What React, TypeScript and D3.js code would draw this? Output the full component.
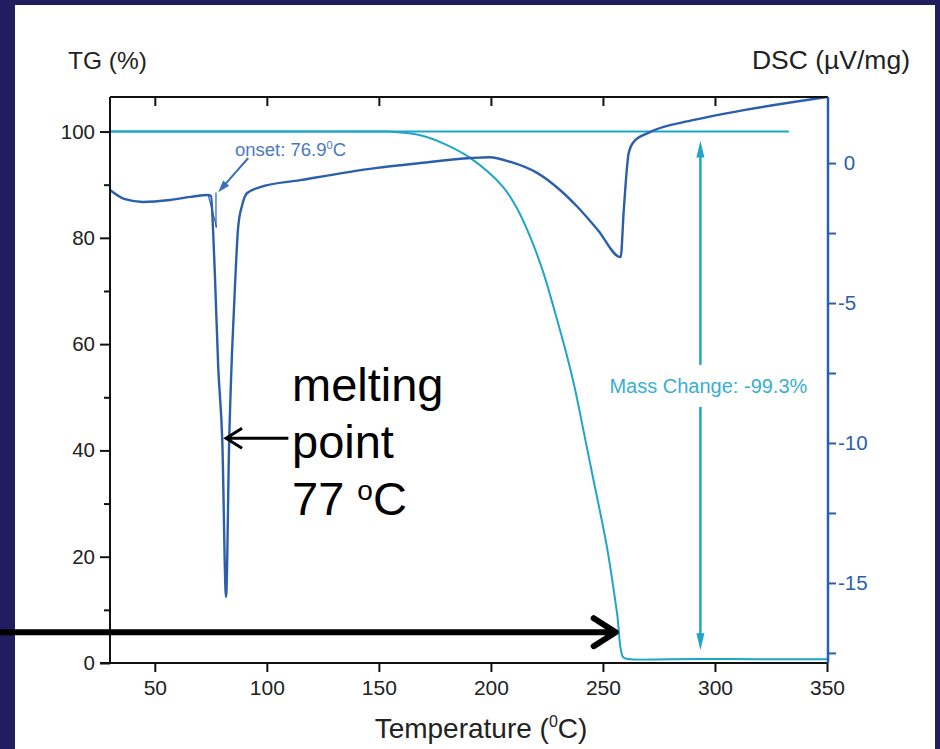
import React, { useEffect, useRef } from "react";
import * as d3 from "d3";

// TG curve (mass %, left axis)
const tgTemp = [30, 150, 153.8, 168.5, 179.7, 190.9, 205.4, 212.1, 217.4, 223.3, 228.6, 233.5, 237.5, 241.1, 245.6, 251.8, 256.3, 259.0, 261.2, 280, 300, 320, 350];
const tgMass = [100, 100, 100, 99.3, 97.6, 95.0, 89.6, 85.2, 80.3, 73.6, 66.0, 58.5, 51.6, 44.2, 34.8, 21.8, 9.4, 1.1, 0.75, 0.7, 0.75, 0.7, 0.7];

// DSC curve (uV/mg, right axis)
const dscTemp = [30, 36.7, 44.7, 56.8, 65.8, 73.8, 75.1, 76.0, 76.9, 78.3, 80.1, 81.8, 83.2, 84.5, 85.9, 87.2, 89.0, 91.2, 97.0, 114.9, 148.4, 168.5, 190.9, 199.4, 208.8, 220.8, 229.8, 238.7, 247.7, 257.9, 259.3, 261.5, 263.7, 270.0, 290.6, 312.9, 350];
const dscValue = [-0.96, -1.29, -1.39, -1.32, -1.21, -1.14, -1.18, -2.39, -4.18, -7.29, -9.89, -15.5, -9.89, -6.68, -4.18, -2.29, -1.5, -1.07, -0.86, -0.61, -0.18, 0, 0.18, 0.21, 0.04, -0.36, -0.89, -1.57, -2.39, -3.36, -1.68, 0.36, 0.75, 1.07, 1.54, 1.89, 2.36];

// ticks
const xTicks = [50, 100, 150, 200, 250, 300, 350];
const tgTicks = [0, 20, 40, 60, 80, 100];
const tgMinor = [10, 30, 50, 70, 90];
const dscTicks = [0, -5, -10, -15];
const dscMinor = [-2.5, -7.5, -12.5, -17.5];

// annotations (temperature, value)
const baseline100 = [30, 333];
const massArrow = { t: 293.5, top: 98.3, bottom: 2.4, gapTop: 56.1, gapBottom: 48.2, label: "Mass Change: -99.3%" };
const onsetArrow = { from: [91.7, 0.18], to: [78.3, -1.04] };
const meltArrow = { from: 109.6, to: 81.8, tg: 42.3 };
const bigArrow = { from: -19.2, to: 255.7, tg: 5.8 };

const W = 940;
const H = 749;
const FONT = "'Liberation Sans', Arial, Helvetica, sans-serif";
const NAVY = "#211e5f";
const CYAN = "#1fa5c9";
const BLUE = "#2b5fab";

const App = () => {
  const svgRef = useRef<SVGSVGElement>(null);

  useEffect(() => {
    const svg = d3.select(svgRef.current);
    svg.selectAll("*").remove();

    const x = d3.scaleLinear().domain([30, 350]).range([110, 827]);
    const yTG = d3.scaleLinear().domain([0, 106.5]).range([663, 97]);
    const yDSC = d3.scaleLinear().domain([-17.86, 2.36]).range([663, 97]);
    const left = 110, right = 828, top = 97, bottom = 663;

    // background frame
    svg.append("rect").attr("width", W).attr("height", H).attr("fill", NAVY);
    svg.append("rect").attr("x", 15).attr("y", 5).attr("width", 920).attr("height", 744).attr("fill", "#fff");

    // 100% reference line
    svg.append("line")
      .attr("x1", x(baseline100[0])).attr("x2", x(baseline100[1]))
      .attr("y1", yTG(100)).attr("y2", yTG(100))
      .attr("stroke", CYAN).attr("stroke-width", 2);

    // TG curve
    const tgLine = d3.line<number>()
      .x((d, i) => x(tgTemp[i]))
      .y((d) => yTG(d))
      .curve(d3.curveCatmullRom.alpha(0.5));
    svg.append("path").attr("d", tgLine(tgMass)).attr("fill", "none")
      .attr("stroke", CYAN).attr("stroke-width", 2);

    // DSC curve
    const dscLine = d3.line<number>()
      .x((d, i) => x(dscTemp[i]))
      .y((d) => yDSC(d))
      .curve(d3.curveMonotoneX);
    svg.append("path").attr("d", dscLine(dscValue)).attr("fill", "none")
      .attr("stroke", BLUE).attr("stroke-width", 2.4).attr("stroke-linejoin", "round");

    // onset construction lines
    const onsetG = svg.append("g").attr("stroke", BLUE).attr("stroke-width", 1.2).attr("fill", "none");
    onsetG.append("line").attr("x1", x(73.8)).attr("y1", yDSC(-1.14)).attr("x2", x(77.6)).attr("y2", yDSC(-2.3));
    onsetG.append("line").attr("x1", x(77.3)).attr("y1", yDSC(-1.05)).attr("x2", x(77.3)).attr("y2", yDSC(-2.3));

    // onset arrow
    const ox1 = x(onsetArrow.from[0]), oy1 = yDSC(onsetArrow.from[1]);
    const ox2 = x(onsetArrow.to[0]), oy2 = yDSC(onsetArrow.to[1]);
    const ang = Math.atan2(oy2 - oy1, ox2 - ox1);
    svg.append("line").attr("x1", ox1).attr("y1", oy1)
      .attr("x2", ox2 - 8 * Math.cos(ang)).attr("y2", oy2 - 8 * Math.sin(ang))
      .attr("stroke", "#3e70b8").attr("stroke-width", 2);
    const head = (len: number, half: number) => {
      const bx = ox2 - len * Math.cos(ang), by = oy2 - len * Math.sin(ang);
      const px = -Math.sin(ang) * half, py = Math.cos(ang) * half;
      return `M${ox2},${oy2}L${bx + px},${by + py}L${bx - px},${by - py}Z`;
    };
    svg.append("path").attr("d", head(12, 4)).attr("fill", "#3e70b8");
    svg.append("text").attr("x", 235).attr("y", 156)
      .attr("font-family", FONT).attr("font-size", 18.5).attr("fill", "#4a79be")
      .call((t) => {
        t.append("tspan").text("onset: 76.9");
        t.append("tspan").attr("font-size", 11).attr("dy", -7).text("0");
        t.append("tspan").attr("dy", 7).text("C");
      });

    // mass change arrow
    const mx = x(massArrow.t);
    const mg = svg.append("g").attr("stroke", CYAN).attr("stroke-width", 2.5);
    mg.append("line").attr("x1", mx).attr("x2", mx).attr("y1", yTG(massArrow.top) + 14).attr("y2", yTG(massArrow.gapTop));
    mg.append("line").attr("x1", mx).attr("x2", mx).attr("y1", yTG(massArrow.gapBottom)).attr("y2", yTG(massArrow.bottom) - 14);
    const tipT = yTG(massArrow.top), tipB = yTG(massArrow.bottom);
    svg.append("path").attr("d", `M${mx},${tipT}L${mx - 4},${tipT + 17}L${mx + 4},${tipT + 17}Z`).attr("fill", CYAN);
    svg.append("path").attr("d", `M${mx},${tipB}L${mx - 4},${tipB - 17}L${mx + 4},${tipB - 17}Z`).attr("fill", CYAN);
    svg.append("text").attr("x", mx + 8).attr("y", (yTG(massArrow.gapTop) + yTG(massArrow.gapBottom)) / 2 + 7)
      .attr("text-anchor", "middle").attr("font-family", FONT).attr("font-size", 20)
      .attr("fill", "#3aaed0").text(massArrow.label);

    // axes frame
    const frame = svg.append("g").attr("stroke", "#111").attr("stroke-width", 2);
    frame.append("line").attr("x1", left).attr("x2", right).attr("y1", top).attr("y2", top);
    frame.append("line").attr("x1", left).attr("x2", left).attr("y1", top).attr("y2", bottom);
    frame.append("line").attr("x1", left - 10).attr("x2", right).attr("y1", bottom).attr("y2", bottom);

    // left axis
    const gl = svg.append("g").attr("transform", `translate(${left},0)`)
      .call(d3.axisLeft(yTG).tickValues(tgTicks).tickSize(10).tickPadding(5).tickFormat((d) => String(d)));
    gl.select(".domain").remove();
    gl.selectAll("line").attr("stroke", "#111").attr("stroke-width", 2);
    gl.selectAll("text").attr("font-family", FONT).attr("font-size", 20.5).attr("fill", "#222");
    svg.append("g").attr("transform", `translate(${left},0)`)
      .call(d3.axisLeft(yTG).tickValues(tgMinor).tickSize(6).tickFormat(() => ""))
      .call((g) => g.select(".domain").remove())
      .call((g) => g.selectAll("line").attr("stroke", "#111").attr("stroke-width", 2));

    // bottom axis
    const gb = svg.append("g").attr("transform", `translate(0,${bottom})`)
      .call(d3.axisBottom(x).tickValues(xTicks).tickSize(9).tickPadding(8));
    gb.select(".domain").remove();
    gb.selectAll("line").attr("stroke", "#111").attr("stroke-width", 2);
    gb.selectAll("text").attr("font-family", FONT).attr("font-size", 21).attr("fill", "#222");

    // top ticks
    svg.append("g").attr("transform", `translate(0,${top})`)
      .call(d3.axisBottom(x).tickValues(xTicks.slice(0, -1)).tickSize(9).tickFormat(() => ""))
      .call((g) => g.select(".domain").remove())
      .call((g) => g.selectAll("line").attr("stroke", "#111").attr("stroke-width", 2));

    // right axis
    const gr = svg.append("g").attr("transform", `translate(${right},0)`)
      .call(d3.axisRight(yDSC).tickValues(dscTicks).tickSize(8).tickPadding(2).tickFormat((d) => (d === 0 ? " 0" : String(d))));
    gr.select(".domain").remove();
    gr.selectAll("line").attr("stroke", BLUE).attr("stroke-width", 2);
    gr.selectAll("text").attr("font-family", FONT).attr("font-size", 20.5).attr("fill", BLUE)
      .style("white-space", "pre");
    svg.append("g").attr("transform", `translate(${right},0)`)
      .call(d3.axisRight(yDSC).tickValues(dscMinor).tickSize(8).tickFormat(() => ""))
      .call((g) => g.select(".domain").remove())
      .call((g) => g.selectAll("line").attr("stroke", BLUE).attr("stroke-width", 2));
    svg.append("line").attr("x1", right).attr("x2", right).attr("y1", top).attr("y2", bottom)
      .attr("stroke", BLUE).attr("stroke-width", 2.5);

    // axis titles
    svg.append("text").attr("x", 68).attr("y", 69).attr("font-family", FONT)
      .attr("font-size", 24.5).attr("fill", "#222").text("TG (%)");
    svg.append("text").attr("x", 910).attr("y", 69).attr("text-anchor", "end").attr("font-family", FONT)
      .attr("font-size", 26.5).attr("fill", "#222").text("DSC (\u00b5V/mg)");
    svg.append("text").attr("x", 481).attr("y", 738).attr("text-anchor", "middle").attr("font-family", FONT)
      .attr("font-size", 28).attr("fill", "#222")
      .call((t) => {
        t.append("tspan").text("Temperature (");
        t.append("tspan").attr("font-size", 16).attr("dy", -11).text("0");
        t.append("tspan").attr("dy", 11).text("C)");
      });

    // melting point note
    const note = svg.append("text").attr("font-family", FONT).attr("font-size", 47).attr("fill", "#000");
    note.append("tspan").attr("x", 292).attr("y", 401).text("melting");
    note.append("tspan").attr("x", 292).attr("y", 458).text("point");
    note.append("tspan").attr("x", 292).attr("y", 515).text("77 ");
    note.append("tspan").attr("font-size", 28).attr("dy", -15).text("o");
    note.append("tspan").attr("dy", 15).text("C");

    // black arrows
    const my = yTG(meltArrow.tg);
    const m1 = x(meltArrow.from), m2 = x(meltArrow.to);
    svg.append("path")
      .attr("d", `M${m1},${my}L${m2},${my}M${m2 + 16},${my - 10}L${m2},${my}L${m2 + 16},${my + 10}`)
      .attr("fill", "none").attr("stroke", "#000").attr("stroke-width", 3);

    const by = yTG(bigArrow.tg);
    const b1 = x(bigArrow.from), b2 = x(bigArrow.to);
    svg.append("path")
      .attr("d", `M${b1},${by}L${b2 - 2},${by}M${b2 - 22},${by - 14}L${b2},${by}L${b2 - 22},${by + 14}`)
      .attr("fill", "none").attr("stroke", "#000").attr("stroke-width", 6)
      .attr("stroke-linejoin", "round").attr("stroke-linecap", "round");
  }, []);

  return (
    <svg ref={svgRef} width={W} height={H} style={{ position: "absolute", left: 0, top: 0, display: "block" }} />
  );
};

export default App;
